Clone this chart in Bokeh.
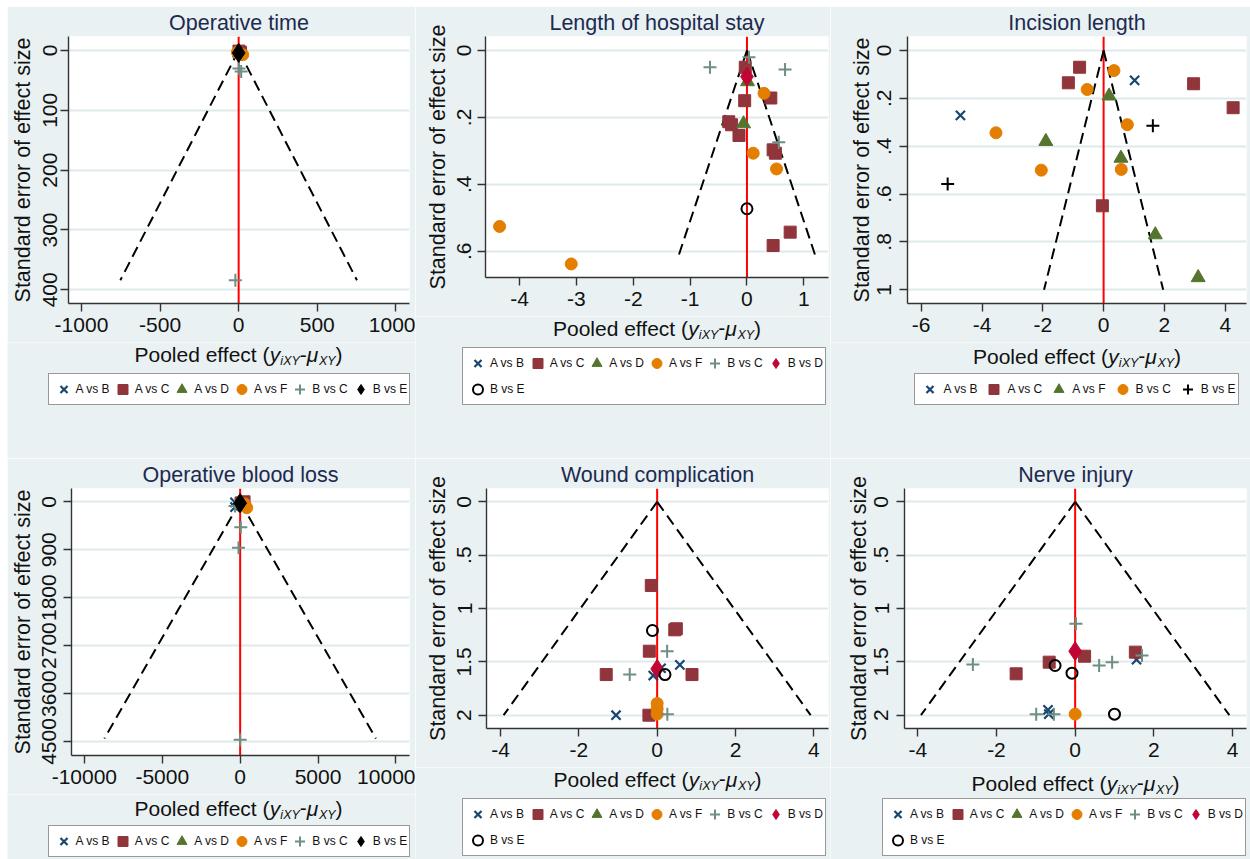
import math

import numpy as np
from bokeh.embed import file_html
from bokeh.layouts import column, row
from bokeh.models import (ColumnDataSource, FixedTicker, Label, Legend,
                          LegendItem, Range1d, Span)
from bokeh.plotting import figure
from bokeh.resources import INLINE

# ---------------------------------------------------------------------------
# Comparison-adjusted funnel plots: effect deviation (y_iXY - mu_XY) against
# the standard error of each study, per outcome and comparison.
# ---------------------------------------------------------------------------

# Operative time
OT_AB_X, OT_AB_SE = [-4], [6]
OT_AC_X, OT_AC_SE = [2, 12], [1, 3]
OT_AD_X, OT_AD_SE = [6], [4]
OT_AF_X, OT_AF_SE = [-8, 26], [3, 7]
OT_BC_X, OT_BC_SE = [2, 16, -21], [30, 35, 384]
OT_BE_X, OT_BE_SE = [0], [4]
OT_FUNNEL_SE = 384
OT_XTICKS, OT_XLABELS = [-1000, -500, 0, 500, 1000], ["-1000", "-500", "0", "500", "1000"]
OT_YTICKS, OT_YLABELS = [0, 100, 200, 300, 400], ["0", "100", "200", "300", "400"]

# Length of hospital stay
LOS_AB_X, LOS_AB_SE = [], []
LOS_AC_X = [-0.03, 0.42, -0.04, -0.32, -0.27, -0.14, 0.46, 0.50, 0.76, 0.46]
LOS_AC_SE = [0.050, 0.142, 0.150, 0.213, 0.222, 0.254, 0.297, 0.307, 0.543, 0.583]
LOS_AD_X, LOS_AD_SE = [0.01, -0.06], [0.093, 0.219]
LOS_AF_X, LOS_AF_SE = [0.30, 0.11, 0.52, -4.35, -3.09], [0.128, 0.307, 0.354, 0.526, 0.638]
LOS_BC_X, LOS_BC_SE = [-0.65, 0.67, 0.035, 0.56], [0.050, 0.057, 0.020, 0.274]
LOS_BD_X, LOS_BD_SE = [0.0], [0.078]
LOS_BE_X, LOS_BE_SE = [0.0], [0.473]
LOS_FUNNEL_SE = 0.61
LOS_XTICKS, LOS_XLABELS = [-4, -3, -2, -1, 0, 1], ["-4", "-3", "-2", "-1", "0", "1"]
LOS_YTICKS, LOS_YLABELS = [0, 0.2, 0.4, 0.6], ["0", ".2", ".4", ".6"]

# Incision length
IL_AB_X, IL_AB_SE = [1.02, -4.71], [0.125, 0.271]
IL_AC_X, IL_AC_SE = [-0.79, -1.16, 2.96, 4.26, -0.04], [0.070, 0.135, 0.139, 0.239, 0.649]
IL_AF_X, IL_AF_SE = [0.18, -1.90, 0.57, 1.70, 3.11], [0.190, 0.380, 0.450, 0.770, 0.949]
IL_BC_X = [0.34, -0.54, 0.78, -3.54, 0.58, -2.05]
IL_BC_SE = [0.084, 0.163, 0.310, 0.344, 0.497, 0.500]
IL_BE_X, IL_BE_SE = [1.62, -5.13], [0.315, 0.558]
IL_FUNNEL_SE = 1.0
IL_XTICKS, IL_XLABELS = [-6, -4, -2, 0, 2, 4], ["-6", "-4", "-2", "0", "2", "4"]
IL_YTICKS, IL_YLABELS = [0, 0.2, 0.4, 0.6, 0.8, 1], ["0", ".2", ".4", ".6", ".8", "1"]

# Operative blood loss
BL_AB_X, BL_AB_SE = [-330, -330], [10, 100]
BL_AC_X, BL_AC_SE = [250, 60], [0, 20]
BL_AD_X, BL_AD_SE = [100], [40]
BL_AF_X, BL_AF_SE = [300, 420], [40, 110]
BL_BC_X, BL_BC_SE = [-330, 42, -105, 0], [80, 476, 864, 4466]
BL_BE_X, BL_BE_SE = [0], [25]
BL_FUNNEL_SE = 4446
BL_XTICKS = [-10000, -5000, 0, 5000, 10000]
BL_XLABELS = ["-10000", "-5000", "0", "5000", "10000"]
BL_YTICKS = [0, 900, 1800, 2700, 3600, 4500]
BL_YLABELS = ["0", "900", "1800", "2700", "3600", "4500"]

# Wound complication
WC_AB_X, WC_AB_SE = [0.58, -0.10, -1.05, 0.10], [1.528, 1.628, 2.000, 1.560]
WC_AC_X = [-0.15, 0.45, 0.49, -0.20, -1.30, 0.89, -0.21]
WC_AC_SE = [0.784, 1.200, 1.190, 1.400, 1.619, 1.619, 2.000]
WC_AD_X, WC_AD_SE = [], []
WC_AF_X, WC_AF_SE = [0.0, 0.0, 0.0], [1.89, 1.94, 1.99]
WC_BC_X, WC_BC_SE = [0.255, -0.70, 0.26], [1.400, 1.619, 1.990]
WC_BD_X, WC_BD_SE = [0.0], [1.566]
WC_BE_X, WC_BE_SE = [-0.12, 0.20], [1.206, 1.619]
WC_FUNNEL_SE = 2.0

# Nerve injury
NI_AB_X, NI_AB_SE = [1.56, -0.69, -0.67], [1.48, 1.95, 1.99]
NI_AC_X, NI_AC_SE = [0.24, 1.53, -0.66, -1.50], [1.447, 1.409, 1.503, 1.612]
NI_AD_X, NI_AD_SE = [], []
NI_AF_X, NI_AF_SE = [0.0], [1.99]
NI_BC_X = [0.02, 1.70, 0.94, 0.61, -2.60, -0.99, -0.54]
NI_BC_SE = [1.144, 1.440, 1.503, 1.534, 1.525, 1.990, 1.990]
NI_BD_X, NI_BD_SE = [0.0], [1.40]
NI_BE_X, NI_BE_SE = [-0.51, -0.08, 1.0], [1.534, 1.606, 1.99]
NI_FUNNEL_SE = 2.0

SMALL_XTICKS, SMALL_XLABELS = [-4, -2, 0, 2, 4], ["-4", "-2", "0", "2", "4"]
SMALL_YTICKS, SMALL_YLABELS = [0, 0.5, 1, 1.5, 2], ["0", ".5", "1", "1.5", "2"]

Z95 = 1.96  # pseudo 95% limits of the funnel

# ---------------------------------------------------------------------------
# Styling
# ---------------------------------------------------------------------------
FONT = "Liberation Sans"
PAGE_BG = "#EAF1F3"
GRID = "#DFE9EC"
AXIS = "#333333"
TITLE_COLOR = "#1C2A50"
TEXT = "#111111"

NAVY, MAROON, FOREST = "#1A476F", "#90353B", "#55752F"
DKORANGE, TEAL, CRANBERRY = "#E37E00", "#6E8E84", "#C10534"

STYLES = {
    "x": dict(marker="x", size=13, line_color=NAVY, line_width=2.2),
    "square": dict(marker="square", size=12, fill_color=MAROON, line_color=MAROON),
    "triangle": dict(marker="triangle", size=14, fill_color=FOREST, line_color=FOREST),
    "circle": dict(marker="circle", size=12, fill_color=DKORANGE, line_color=DKORANGE),
    "plus": dict(marker="cross", size=13, line_color=TEAL, line_width=2),
    "plus_black": dict(marker="cross", size=13, line_color="black", line_width=2),
    "diamond": dict(marker="diamond", size=19, fill_color=CRANBERRY, line_color=CRANBERRY),
    "diamond_black": dict(marker="diamond", size=19, fill_color="black", line_color="black"),
    "hollow": dict(marker="circle", size=11, fill_color=None, line_color="black", line_width=2),
}

# advance widths (em) of Liberation Sans, used to lay out composite labels
ADV = {" ": .278, "(": .333, ")": .333, "-": .333, "A": .667, "B": .667, "C": .722,
       "D": .722, "E": .667, "F": .611, "P": .667, "X": .667, "Y": .667, "c": .5,
       "d": .556, "e": .556, "f": .278, "i": .222, "l": .222, "o": .556, "s": .5,
       "t": .278, "v": .5, "y": .5, "\u03bc": .576}
MID = 0.3465  # height of the ascent/descent box centre above the baseline (em)


def text_width(s, px):
    return sum(ADV.get(ch, .556) for ch in s) * px


PANELS = [
    dict(title="Operative time",
         series=[("A vs B", OT_AB_X, OT_AB_SE, "x"), ("A vs C", OT_AC_X, OT_AC_SE, "square"),
                 ("A vs D", OT_AD_X, OT_AD_SE, "triangle"), ("A vs F", OT_AF_X, OT_AF_SE, "circle"),
                 ("B vs C", OT_BC_X, OT_BC_SE, "plus"), ("B vs E", OT_BE_X, OT_BE_SE, "diamond_black")],
         funnel=OT_FUNNEL_SE, xr=(-1082.5, 1086.9), yr=(-23.4, 422.9),
         xticks=OT_XTICKS, xlabels=OT_XLABELS, yticks=OT_YTICKS, ylabels=OT_YLABELS,
         size=(408, 452), border=(60, 6, 30), frame_h=267, ytick_standoff=3,
         ylab_standoff=6, xlab_dy=58.7, ncols=6, lg=(0, 0)),
    dict(title="Length of hospital stay",
         series=[("A vs B", LOS_AB_X, LOS_AB_SE, "x"), ("A vs C", LOS_AC_X, LOS_AC_SE, "square"),
                 ("A vs D", LOS_AD_X, LOS_AD_SE, "triangle"), ("A vs F", LOS_AF_X, LOS_AF_SE, "circle"),
                 ("B vs C", LOS_BC_X, LOS_BC_SE, "plus"), ("B vs D", LOS_BD_X, LOS_BD_SE, "diamond"),
                 ("B vs E", LOS_BE_X, LOS_BE_SE, "hollow")],
         funnel=LOS_FUNNEL_SE, xr=(-4.598, 1.434), yr=(-0.0419, 0.6786),
         xticks=LOS_XTICKS, xlabels=LOS_XLABELS, yticks=LOS_YTICKS, ylabels=LOS_YLABELS,
         size=(415, 452), border=(70, 2, 30), frame_h=241, ytick_standoff=6,
         ylab_standoff=5, xlab_dy=58, ncols=6, lg=(0, 0)),
    dict(title="Incision length",
         series=[("A vs B", IL_AB_X, IL_AB_SE, "x"), ("A vs C", IL_AC_X, IL_AC_SE, "square"),
                 ("A vs F", IL_AF_X, IL_AF_SE, "triangle"), ("B vs C", IL_BC_X, IL_BC_SE, "circle"),
                 ("B vs E", IL_BE_X, IL_BE_SE, "plus_black")],
         funnel=IL_FUNNEL_SE, xr=(-6.451, 4.70), yr=(-0.0585, 1.0573),
         xticks=IL_XTICKS, xlabels=IL_XLABELS, yticks=IL_YTICKS, ylabels=IL_YLABELS,
         size=(420, 452), border=(77, 4, 30), frame_h=267, ytick_standoff=8,
         ylab_standoff=1, xlab_dy=60, ncols=5, lg=(1, 4)),
    dict(title="Operative blood loss",
         series=[("A vs B", BL_AB_X, BL_AB_SE, "x"), ("A vs C", BL_AC_X, BL_AC_SE, "square"),
                 ("A vs D", BL_AD_X, BL_AD_SE, "triangle"), ("A vs F", BL_AF_X, BL_AF_SE, "circle"),
                 ("B vs C", BL_BC_X, BL_BC_SE, "plus"), ("B vs E", BL_BE_X, BL_BE_SE, "diamond_black")],
         funnel=BL_FUNNEL_SE, xr=(-10825, 10869), yr=(-250, 4763),
         xticks=BL_XTICKS, xlabels=BL_XLABELS, yticks=BL_YTICKS, ylabels=BL_YLABELS,
         size=(408, 401), border=(60, 6, 30), frame_h=267, ytick_standoff=7,
         ylab_standoff=5, xlab_dy=60, ncols=6, lg=(0, 0)),
    dict(title="Wound complication",
         series=[("A vs B", WC_AB_X, WC_AB_SE, "x"), ("A vs C", WC_AC_X, WC_AC_SE, "square"),
                 ("A vs D", WC_AD_X, WC_AD_SE, "triangle"), ("A vs F", WC_AF_X, WC_AF_SE, "circle"),
                 ("B vs C", WC_BC_X, WC_BC_SE, "plus"), ("B vs D", WC_BD_X, WC_BD_SE, "diamond"),
                 ("B vs E", WC_BE_X, WC_BE_SE, "hollow")],
         funnel=WC_FUNNEL_SE, xr=(-4.357, 4.375), yr=(-0.1247, 2.1247),
         xticks=SMALL_XTICKS, xlabels=SMALL_XLABELS, yticks=SMALL_YTICKS, ylabels=SMALL_YLABELS,
         size=(415, 401), border=(71, 2, 30), frame_h=240, ytick_standoff=7,
         ylab_standoff=5, xlab_dy=58, ncols=6, lg=(0, 0)),
    dict(title="Nerve injury",
         series=[("A vs B", NI_AB_X, NI_AB_SE, "x"), ("A vs C", NI_AC_X, NI_AC_SE, "square"),
                 ("A vs D", NI_AD_X, NI_AD_SE, "triangle"), ("A vs F", NI_AF_X, NI_AF_SE, "circle"),
                 ("B vs C", NI_BC_X, NI_BC_SE, "plus"), ("B vs D", NI_BD_X, NI_BD_SE, "diamond"),
                 ("B vs E", NI_BE_X, NI_BE_SE, "hollow")],
         funnel=NI_FUNNEL_SE, xr=(-4.338, 4.356), yr=(-0.1247, 2.1247),
         xticks=SMALL_XTICKS, xlabels=SMALL_XLABELS, yticks=SMALL_YTICKS, ylabels=SMALL_YLABELS,
         size=(420, 401), border=(74, 4, 30), frame_h=240, ytick_standoff=8,
         ylab_standoff=1, xlab_dy=62, ncols=6, lg=(0, 0)),
]

AXIS_BAND = 39        # room under the frame for ticks and tick labels
KEY_W, KEY_H = 25, 26  # legend key box
LEGEND_PAD = 2
LEGEND_TOP_GAP = 72   # frame bottom to legend box top
SUB_DROP = 3.5        # subscript baseline shift


def as_column(values):
    # a comparison without any study still needs one (missing) row for its key
    return np.asarray(values if len(values) else [np.nan], dtype=float)


def build(spec):
    bl, br, bt = spec["border"]
    w, h = spec["size"]
    fh = spec["frame_h"]
    fw = w - bl - br

    p = figure(width=w, height=bt + fh + AXIS_BAND,
               x_range=Range1d(*spec["xr"]),
               y_range=Range1d(spec["yr"][1], spec["yr"][0]),   # SE grows downwards
               min_border_left=bl, min_border_right=br,
               min_border_top=bt, min_border_bottom=AXIS_BAND,
               toolbar_location=None, output_backend="svg",
               background_fill_color="white", border_fill_color=PAGE_BG,
               outline_line_color=None, frame_align=False)

    p.title.text = spec["title"]
    p.title.align = "center"
    p.title.text_font = FONT
    p.title.text_font_size = "21.5px"
    p.title.text_font_style = "normal"
    p.title.text_color = TITLE_COLOR
    p.title.standoff = 3

    xt = FixedTicker(ticks=spec["xticks"])
    yt = FixedTicker(ticks=spec["yticks"])
    p.xaxis.ticker = xt
    p.yaxis.ticker = yt
    p.xaxis.major_label_overrides = dict(zip(spec["xticks"], spec["xlabels"]))
    p.yaxis.major_label_overrides = dict(zip(spec["yticks"], spec["ylabels"]))
    for ax in (p.xaxis[0], p.yaxis[0]):
        ax.axis_line_color = AXIS
        ax.axis_line_width = 1.4
        ax.major_tick_line_color = AXIS
        ax.major_tick_line_width = 1.4
        ax.major_tick_out = 8
        ax.major_tick_in = 0
        ax.minor_tick_out = 0
        ax.minor_tick_in = 0
        ax.major_label_text_font = FONT
        ax.major_label_text_font_size = "21px"
        ax.major_label_text_color = TEXT
    p.xaxis.major_label_standoff = 6
    p.yaxis.major_label_standoff = spec["ytick_standoff"]
    p.yaxis.major_label_orientation = "vertical"
    p.yaxis.axis_label = "Standard error of effect size"
    p.yaxis.axis_label_text_font = FONT
    p.yaxis.axis_label_text_font_size = "21.5px"
    p.yaxis.axis_label_text_font_style = "normal"
    p.yaxis.axis_label_text_color = TEXT
    p.yaxis.axis_label_standoff = spec["ylab_standoff"]

    p.xgrid.visible = False
    p.ygrid.ticker = yt
    p.ygrid.grid_line_color = GRID
    p.ygrid.grid_line_width = 2

    # line of no difference
    p.add_layout(Span(location=0, dimension="height", line_color="#FF0000",
                      line_width=2, level="underlay"))

    # pseudo 95% confidence limits
    m = spec["funnel"]
    for sgn in (-1, 1):
        p.line([0, sgn * Z95 * m], [0, m], line_color="black", line_width=2,
               line_dash="11 6")

    sources = []
    for label, xs, ses, sty in spec["series"]:
        src = ColumnDataSource(dict(x=as_column(xs), se=as_column(ses)))
        p.scatter("x", "se", source=src, **STYLES[sty])
        sources.append(src)

    # footer strip: x-axis title and legend (its scale shows no data region)
    fh_foot = h - (bt + fh + AXIS_BAND)
    f = figure(width=w, height=fh_foot, x_range=Range1d(1e9, 1e9 + w),
               y_range=Range1d(1e9, 1e9 + fh_foot),
               min_border_left=0, min_border_right=0, min_border_top=0, min_border_bottom=0,
               toolbar_location=None, output_backend="svg",
               x_axis_location=None, y_axis_location=None,
               background_fill_color=PAGE_BG, border_fill_color=PAGE_BG,
               outline_line_color=None, frame_align=False)
    f.grid.visible = False

    pieces = [("Pooled effect (", "normal", 21, False), ("y", "italic", 21, False),
              ("iXY", "italic", 12.5, True), ("-", "normal", 21, False),
              ("\u03bc", "italic", 21, False), ("XY", "italic", 12.5, True),
              (")", "normal", 21, False)]
    total = sum(text_width(t, s) for t, _, s, _ in pieces)
    x = bl + fw / 2 - total / 2
    baseline = fh_foot - (spec["xlab_dy"] - AXIS_BAND)   # screen y, measured upwards
    for t, style, s, sub in pieces:
        y = baseline - (SUB_DROP if sub else 0) + MID * s
        f.add_layout(Label(x=x, y=y, x_units="screen", y_units="screen",
                           text=t, text_align="left", text_baseline="middle",
                           text_font=FONT, text_font_size=f"{s}px",
                           text_font_style=style, text_color=TEXT))
        x += text_width(t, s)

    items = []
    for (label, _, _, sty), src in zip(spec["series"], sources):
        key = f.scatter("x", "se", source=src, **STYLES[sty])
        items.append(LegendItem(label=label, renderers=[key]))

    ncols = spec["ncols"]
    standoff, spacing = spec["lg"]
    nrows = math.ceil(len(items) / ncols)
    col_w = []
    for c in range(ncols):
        labs = [spec["series"][i][0] for i in range(c, len(items), ncols)]
        col_w.append(KEY_W + standoff + max(text_width(t, 12) for t in labs))
    lw = sum(col_w) + (ncols - 1) * spacing + 2 * LEGEND_PAD
    lh = nrows * KEY_H + (nrows - 1) * spacing + 2 * LEGEND_PAD
    x0 = min(max(bl + fw / 2 - lw / 2, 3), w - lw - 4)
    top = fh_foot - (LEGEND_TOP_GAP - AXIS_BAND)
    legend = Legend(items=items, orientation="horizontal", ncols=ncols,
                    location=(x0, top - lh),
                    glyph_width=KEY_W, glyph_height=KEY_H,
                    label_height=KEY_H, label_width=10,
                    label_standoff=standoff, spacing=spacing,
                    padding=LEGEND_PAD, margin=0,
                    border_line_color="#333333", border_line_width=1.5,
                    background_fill_color="white", background_fill_alpha=1,
                    label_text_font=FONT, label_text_font_size="12px",
                    label_text_color=TEXT)
    f.add_layout(legend)
    return column(p, f)


panels = [build(s) for s in PANELS]
layout = column(row(*panels[:3]), row(*panels[3:]), margin=(6, 0, 0, 7))

with open("out.html", "w") as fh_out:
    fh_out.write(file_html(layout, INLINE, title="Funnel plots"))
